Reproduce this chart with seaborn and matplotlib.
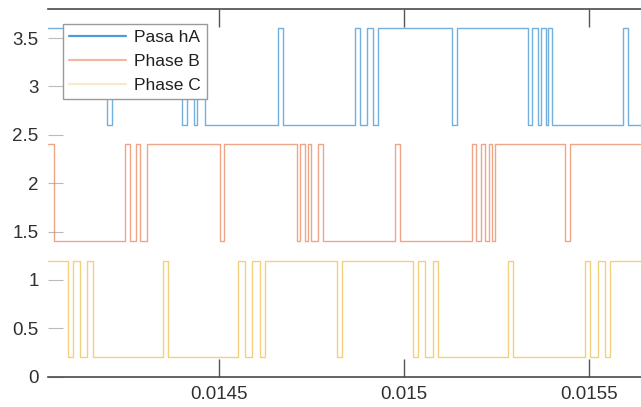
import matplotlib
matplotlib.use("Agg")
import matplotlib.pyplot as plt
import seaborn as sns
import pandas as pd

# ---- data ----
x_start = 0.014038
x_end = 0.0156405

phase_names = ["Pasa hA", "Phase B", "Phase C"]
base_levels = [2.6, 1.4, 0.2]

a_times = [x_start, 0.0141973, 0.0142108, 0.0144000, 0.0144135, 0.0144324, 0.0144405,
           0.0144622, 0.0146595, 0.0146730, 0.0148676, 0.0148811, 0.0149000, 0.0149162,
           0.0149297, 0.0151297, 0.0151432, 0.0153351, 0.0153459, 0.0153622, 0.0153703,
           0.0153838, 0.0153892, 0.0154000, 0.0155919, 0.0156054, x_end]
a_states = [1, 0, 1, 0, 1, 0, 1, 0, 1, 0, 1, 0, 1, 0, 1, 0, 1, 0, 1, 0, 1, 0, 1, 0,
            1, 0, 0]

b_times = [x_start, 0.0140541, 0.0142460, 0.0142595, 0.0142757, 0.0142865, 0.0143054,
           0.0145027, 0.0145135, 0.0147108, 0.0147189, 0.0147324, 0.0147405, 0.0147486,
           0.0147676, 0.0147811, 0.0149757, 0.0149892, 0.0151838, 0.0151946, 0.0152081,
           0.0152189, 0.0152297, 0.0152378, 0.0152459, 0.0154351, 0.0154486, x_end]
b_states = [1, 0, 1, 0, 1, 0, 1, 0, 1, 0, 1, 0, 1, 0, 1, 0, 1, 0, 1, 0, 1, 0, 1, 0,
            1, 0, 1, 1]

c_times = [x_start, 0.0140919, 0.0141054, 0.0141243, 0.0141432, 0.0141595, 0.0143486,
           0.0143622, 0.0145514, 0.0145703, 0.0145892, 0.0146108, 0.0146243, 0.0148189,
           0.0148324, 0.0150243, 0.0150378, 0.0150568, 0.0150784, 0.0150919, 0.0152811,
           0.0152946, 0.0154892, 0.0155027, 0.0155243, 0.0155432, 0.0155568, x_end]
c_states = [1, 0, 1, 0, 1, 0, 1, 0, 1, 0, 1, 0, 1, 0, 1, 0, 1, 0, 1, 0, 1, 0, 1, 0,
            1, 0, 1, 1]

x_ticks = [0.0145, 0.015, 0.0155]
x_tick_labels = ["0.0145", "0.015", "0.0155"]
y_ticks = [0, 0.5, 1, 1.5, 2, 2.5, 3, 3.5]
y_tick_labels = ["0", "0.5", "1", "1.5", "2", "2.5", "3", "3.5"]

# ---- build long table ----
rows = []
for name, base, ts, ss in zip(phase_names, base_levels,
                              [a_times, b_times, c_times],
                              [a_states, b_states, c_states]):
    for t, s in zip(ts, ss):
        rows.append({"t": t, "v": base + s, "phase": name})
df = pd.DataFrame(rows)

sns.set_theme(style="white")
plt.rcParams["font.family"] = ["Liberation Sans", "DejaVu Sans"]

W, H = 641, 407
fig = plt.figure(figsize=(W / 100, H / 100), dpi=100)
left_px, bottom_px, top_px = 48.3, 376.7, 9.0
ax = fig.add_axes([left_px / W, (H - bottom_px) / H, 1 - left_px / W, (bottom_px - top_px) / H])

line_colors = {"Pasa hA": "#3f92d2", "Phase B": "#e8825a", "Phase C": "#f1bf4c"}
sns.lineplot(data=df, x="t", y="v", hue="phase", palette=line_colors,
             estimator=None, sort=False, drawstyle="steps-post",
             linewidth=1.0, alpha=0.72, ax=ax)

ax.set_xlim(x_start, x_end)
ax.set_ylim(0, 3.8)
ax.set_xlabel("")
ax.set_ylabel("")
ax.set_xticks(x_ticks)
ax.set_xticklabels(x_tick_labels)
ax.set_yticks(y_ticks)
ax.set_yticklabels(y_tick_labels)

for side in ["left", "right"]:
    ax.spines[side].set_visible(False)
for side in ["top", "bottom"]:
    ax.spines[side].set_color("#4a4a4a")
    ax.spines[side].set_linewidth(1.2)

ax.tick_params(axis="x", direction="in", length=13, width=1.0, color="#555555",
               top=True, bottom=True, labelsize=13.5, labelcolor="#303030", pad=7)
ax.tick_params(axis="y", direction="in", length=11, width=0.8, color="#bbbbbb",
               left=True, right=False, labelsize=13.5, labelcolor="#303030", pad=7)

leg = ax.legend(loc="upper left", bbox_to_anchor=(63 / W, 1 - 24 / H),
                bbox_transform=fig.transFigure, borderaxespad=0,
                frameon=True, fancybox=False, framealpha=1, edgecolor="#9a9a9a",
                fontsize=12.5, handlelength=3.3, handletextpad=0.45,
                borderpad=0.35, labelspacing=0.5)
leg.get_frame().set_linewidth(1.0)
legend_colors = ["#4f9bd8", "#f2b8a2", "#f8e8cc"]
for h, c in zip(leg.get_lines(), legend_colors):
    h.set_color(c)
    h.set_alpha(1)
    h.set_linewidth(1.6)
for txt in leg.get_texts():
    txt.set_color("#202020")

fig.savefig("out.png", dpi=100)
